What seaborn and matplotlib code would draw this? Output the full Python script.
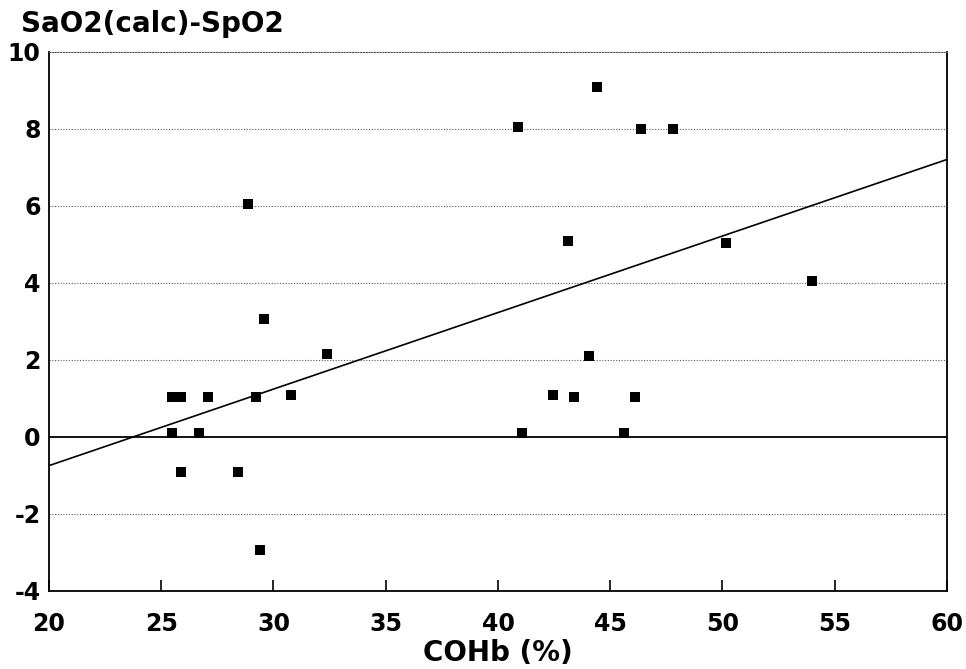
import numpy as np
import pandas as pd
import matplotlib
matplotlib.use("Agg")
import matplotlib.pyplot as plt
import seaborn as sns

cohb = [25.46, 25.46, 25.9, 25.86, 26.7, 27.1, 28.4, 28.86, 29.2, 29.4, 29.57,
        30.8, 32.4, 40.9, 41.07, 42.46, 43.1, 43.4, 44.07, 44.4, 45.6, 46.1,
        46.35, 47.8, 50.16, 54.0]
diff = [0.1, 1.04, 1.04, -0.9, 0.1, 1.04, -0.9, 6.05, 1.04, -2.93, 3.06,
        1.1, 2.15, 8.05, 0.1, 1.1, 5.1, 1.04, 2.1, 9.1, 0.1, 1.04,
        8.0, 8.0, 5.05, 4.05]
# regression line as printed in the chart
fit_intercept = -4.72
fit_slope = 0.1988
xticks = [20, 25, 30, 35, 40, 45, 50, 55, 60]
yticks = [-4, -2, 0, 2, 4, 6, 8, 10]

df = pd.DataFrame({"COHb": cohb, "diff": diff})
fit_x = np.array([xticks[0], xticks[-1]], dtype=float)
fit_df = pd.DataFrame({"COHb": fit_x, "diff": fit_intercept + fit_slope * fit_x})

sns.set_style("white")
plt.rcParams['font.family'] = ['DejaVu Sans']
plt.rcParams['text.color'] = 'black'
plt.rcParams['xtick.color'] = 'black'
plt.rcParams['ytick.color'] = 'black'
plt.rcParams['axes.labelcolor'] = 'black'

fig = plt.figure(figsize=(9.66, 6.69), dpi=100)
ax = fig.add_axes([0.0507, 0.1166, 0.9296, 0.8057])

for yv in [-2, 2, 4, 6, 8]:
    ax.axhline(yv, color='0.35', lw=0.8, ls=(0, (1, 1.5)), zorder=1)
ax.axhline(0, color='black', lw=1.3, zorder=2)

sns.lineplot(data=fit_df, x="COHb", y="diff", ax=ax, color='black', lw=1.2,
             zorder=3)
sns.scatterplot(data=df, x="COHb", y="diff", ax=ax, marker='s', s=44,
                color='black', edgecolor='black', linewidth=0, zorder=5)

ax.set_xlim(20, 60)
ax.set_ylim(-4, 10)
ax.set_xticks(xticks)
ax.set_yticks(yticks)
ax.set_xticklabels([str(t) for t in xticks], fontsize=17, fontweight='bold')
ax.set_yticklabels([str(t) for t in yticks], fontsize=17, fontweight='bold')
ax.tick_params(axis='x', direction='in', length=8, width=1.2, pad=15, bottom=True)
ax.tick_params(axis='y', direction='out', length=0, pad=6, left=True)
for s in ['left', 'right', 'bottom']:
    ax.spines[s].set_color('black')
    ax.spines[s].set_linewidth(1.3)
ax.spines['top'].set_color('0.3')
ax.spines['top'].set_linewidth(0.8)
ax.spines['top'].set_linestyle((0, (1, 1.5)))
ax.set_xlabel("COHb (%)", fontsize=20, fontweight='bold', labelpad=2)
ax.set_ylabel("")
fig.text(0.022, 0.964, "SaO2(calc)-SpO2", fontsize=20, fontweight='bold',
         ha='left', va='center')

fig.savefig("out.png", dpi=100)
